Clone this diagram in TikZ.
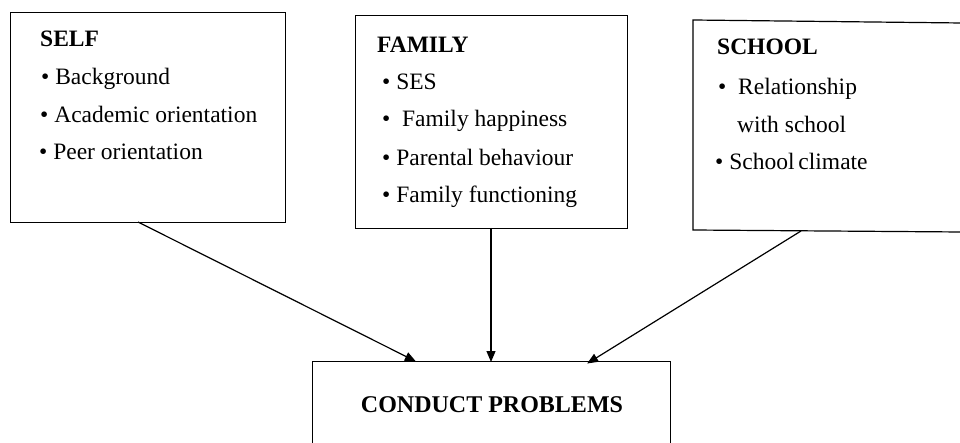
\documentclass[tikz,border=0pt]{standalone}
\usepackage{fontspec}
\setmainfont{Liberation Serif}
\usetikzlibrary{arrows.meta}
\begin{document}
\begin{tikzpicture}[x=1pt,y=-1pt,
  boxline/.style={draw=black, line width=1.2pt},
  ttl/.style={anchor=base west, inner sep=0pt, font=\fontsize{23.5}{27}\selectfont\bfseries},
  itm/.style={anchor=base west, inner sep=0pt, font=\fontsize{23.5}{27}\selectfont},
  conn/.style={draw=black, line width=1.2pt, -{Triangle[length=11pt,width=9pt]}, shorten >=-1pt}
]
\useasboundingbox (0,0) rectangle (960,443);
\clip (0,0) rectangle (960,443);
\fill[white] (0,0) rectangle (960,443);

% SELF box
\node[boxline, anchor=north west, minimum width=275pt, minimum height=210pt, inner sep=0pt] (self) at (10,12) {};
\node[ttl] (selft) at (40,47) {SELF};
\node[itm] (self1) at (41,85) {\textbullet\ Background};
\node[itm] (self2) at (40,123) {\textbullet\ Academic orientation};
\node[itm] (self3) at (39,160) {\textbullet\ Peer orientation};

% FAMILY box
\node[boxline, anchor=north west, minimum width=272pt, minimum height=213pt, inner sep=0pt] (family) at (355,15) {};
\node[ttl] (famt) at (377,53) {FAMILY};
\node[itm] (fam1) at (382,90) {\textbullet\ SES};
\node[itm] (fam2) at (382,127) {\textbullet\ \ Family happiness};
\node[itm] (fam3) at (382,166) {\textbullet\ Parental behaviour};
\node[itm] (fam4) at (382,203) {\textbullet\ Family functioning};

% SCHOOL box (open at the right edge)
\draw[line width=1.2pt] (962,23) -- (693,20) -- (693,230) -- (962,232);
\node[ttl] (scht) at (717,55) {SCHOOL};
\node[itm] (sch1) at (718,95) {\textbullet\ \ Relationship};
\node[itm] (sch1b) at (737,133) {with school};
\node[itm] (sch2) at (715,170) {\textbullet\ School\,climate};

% CONDUCT PROBLEMS box
\node[boxline, anchor=north west, minimum width=358pt, minimum height=120pt, inner sep=0pt] (conduct) at (312,361) {};
\node[anchor=base, inner sep=0pt, font=\fontsize{24}{28}\selectfont\bfseries] (condt) at (492,412) {CONDUCT PROBLEMS};

% connector end points
\coordinate (selfout) at (138,222);
\coordinate (famout) at (491,228);
\coordinate (schout) at (801,231);
\coordinate (cin1) at (415,361);
\coordinate (cin2) at (491,361);
\coordinate (cin3) at (588,363);

\draw[conn] (selfout) -- (cin1);
\draw[conn] (famout) -- (cin2);
\draw[conn] (schout) -- (cin3);
\end{tikzpicture}
\end{document}
